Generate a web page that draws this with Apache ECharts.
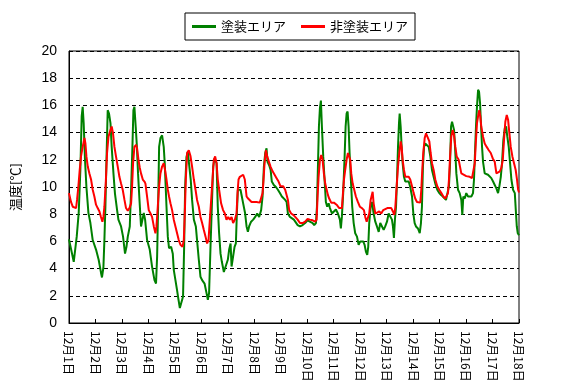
<!DOCTYPE html>
<html><head><meta charset="utf-8">
<script src="https://cdn.jsdelivr.net/npm/echarts@6/dist/echarts.min.js"></script>
<style>html,body{margin:0;padding:0;background:#fff}#c{width:587px;height:390px}</style>
</head><body><div id="c"></div>
<script>
const seriesNames = ['塗装エリア', '非塗装エリア'];
const dayTicks = ['12月1日','12月2日','12月3日','12月4日','12月5日','12月6日','12月7日','12月8日','12月9日','12月10日','12月11日','12月12日','12月13日','12月14日','12月15日','12月16日','12月17日','12月18日'];
const yTicks = [0,2,4,6,8,10,12,14,16,18,20];

// 塗装エリア (hours since 12/1 0:00, temperature)
const greenHours = [0,4.3,7.0,8.8,10.3,11.5,12.4,13.3,14.5,15.8,17.6,19.4,21.5,24.5,26.9,29.0,29.9,31.2,32.1,33.0,33.9,35.1,36.3,37.6,38.7,40.3,41.7,43.6,44.8,47.2,49.0,50.8,52.1,53.3,55.1,56.3,57.5,58.4,59.3,60.5,61.4,62.6,63.9,65.3,66.6,67.8,69.0,70.8,73.2,75.3,77.5,78.9,79.9,80.8,81.7,82.9,84.4,85.9,86.8,88.4,89.6,90.7,92.6,94.1,95.0,96.5,98.0,99.3,100.5,102.3,103.4,104.4,105.3,106.5,107.7,109.3,110.4,111.6,113.2,115.0,116.1,117.7,119.2,120.7,122.9,124.7,125.9,127.0,128.3,129.5,130.7,131.9,133.8,134.9,136.1,137.4,138.6,140.4,142.2,144.0,145.2,146.5,147.4,148.8,150.1,151.3,152.2,153.1,155.5,156.7,157.9,159.7,161.0,162.2,163.3,165.1,167.0,168.8,170.6,172.4,174.2,175.5,176.7,177.9,179.1,180.0,181.5,182.8,183.9,185.7,187.6,189.4,191.2,193.0,194.8,196.0,197.3,198.5,200.3,202.1,203.9,205.7,207.3,209.4,211.8,214.1,216.3,218.4,220.9,222.3,223.9,224.8,225.7,226.6,227.5,228.4,229.3,230.5,231.7,232.9,234.1,235.4,236.6,238.4,240.2,242.0,243.8,245.6,246.5,247.4,248.6,249.9,250.8,251.7,252.6,253.5,254.4,255.6,256.8,258.1,259.5,261.1,262.6,264.1,265.6,266.8,268.0,269.2,270.4,271.3,272.2,273.5,274.7,276.2,277.7,279.2,280.8,282.2,283.7,285.3,286.7,288.3,289.8,291.3,292.8,293.7,294.6,295.5,296.5,297.4,298.3,299.2,299.8,300.7,301.6,302.5,303.7,304.9,306.4,308.0,309.4,311.0,312.2,313.4,314.6,316.4,318.0,319.1,320.0,320.9,321.9,323.0,324.6,326.1,327.6,329.1,330.6,332.1,333.9,335.7,337.6,339.4,341.8,343.6,344.5,345.5,346.4,347.3,348.2,349.1,350.0,351.2,352.7,354.2,355.7,356.6,357.5,358.8,360.2,361.8,363.3,364.8,366.3,367.2,368.1,369.0,369.9,370.9,371.8,372.7,373.6,374.5,375.4,376.9,378.4,379.9,381.5,382.9,384.5,386.0,387.5,389.0,390.2,391.5,392.6,393.8,395.1,396.3,397.4,398.7,399.9,401.1,402.6,404.2,405.1,406.0,406.9,408];
const greenTemps = [6.15,4.5,6.35,8.1,11.25,15.2,15.9,14.7,12,10,8.1,7.35,6.1,5.4,4.65,3.7,3.35,4.1,6.1,8.55,11.75,15.65,15.4,14.7,12.95,11,9.5,8.3,7.6,7.1,6.35,5.1,5.6,6.35,7.1,9.8,12.95,15.65,15.9,14.4,13.2,11,9.05,7.1,7.6,8.1,7.6,6.1,5.4,4.15,3.15,2.9,4.9,8.55,12.95,13.6,13.8,12.95,11.75,8.55,6.35,5.5,5.6,5.1,3.9,3.15,2.4,1.7,1.1,1.1,1.95,5.6,10,12.2,12.6,12.5,10.5,9.05,7.6,7.1,6.1,4.65,3.4,3.15,2.9,2.2,1.7,2.2,5.6,8.55,11.5,12.1,11.75,8.55,6.6,5.1,4.5,3.75,3.7,4.65,5.4,5.85,4.15,4.15,5.6,5.85,8.05,9.8,9.8,9.3,8.8,8.05,7.1,6.7,7.1,7.45,7.6,7.8,8.05,7.8,8.3,9.3,11.5,12.5,12.85,11.85,11.6,11.25,10.4,10.15,10,9.8,9.55,9.3,9.25,9.05,8.9,8.05,7.8,7.7,7.6,7.6,7.2,7.1,7.2,7.35,7.55,7.45,7.35,7.2,7.35,8.55,11.5,14.45,15.8,16.35,14.45,12.25,10.55,8.9,8.55,8.8,8.45,8.05,8.2,8.35,8.05,7.6,6.95,7.8,9.55,12.25,14.45,15.4,15.55,14.45,12.5,10.5,8.55,7.35,6.6,6.35,5.75,6,6.1,6,5.75,5.25,5,5.6,7.35,8.55,8.9,8.05,7.45,7.1,6.7,7.35,7.45,6.85,7.1,7.45,8.05,8.05,7.6,7.1,6.25,7.6,8.55,10.55,12.95,14.7,15.4,14.45,12.95,11.75,10.75,10.4,10.5,10.4,10,9.3,8.05,7.35,7.1,6.95,6.6,7.35,8.55,11.5,12.95,13.2,13.2,12.95,12.25,11.25,10.75,10.25,9.8,9.55,9.4,9.3,9.05,9.15,10.05,11.75,14.45,14.8,14.7,14.2,12.95,11,9.8,9.55,9.05,7.95,9.3,9.15,9.55,9.3,9.4,9.3,9.55,10.55,12.5,14.45,15.9,17.15,17,16.15,14.45,12.95,11.85,11,10.9,10.9,10.8,10.65,10.4,10.15,9.9,9.55,10.05,10.75,11.75,13.45,14.3,14.45,13.7,12.95,11.75,10.55,9.8,9.55,8.3,7.1,6.6,6.45];

// 非塗装エリア
const redHours = [0,1.8,3.4,4.9,6.4,7.3,8.5,9.7,10.9,12.4,14.0,14.9,15.8,17.0,18.5,20.0,21.5,23.0,24.5,26.0,27.6,29.0,30.3,31.2,32.1,33.3,34.5,35.8,37.6,38.7,39.9,41.2,42.6,44.2,45.7,47.2,48.7,50.3,51.7,53.3,54.8,56.3,57.2,58.1,59.3,60.8,61.7,63.0,64.2,65.3,66.9,68.4,69.3,70.8,72.3,73.9,75.3,76.9,78.4,79.3,80.5,81.7,82.9,84.4,85.9,87.1,88.4,89.6,90.7,92.0,93.5,95.0,96.5,98.0,99.5,101.1,102.9,104.1,105.0,105.9,107.1,108.6,110.2,111.6,113.2,114.7,116.1,117.7,119.2,120.7,122.2,123.8,125.2,126.5,127.7,128.9,130.1,131.3,132.5,133.8,134.9,136.1,137.9,139.7,141.3,142.8,144.3,145.8,147.4,148.8,150.4,151.9,152.8,153.7,154.9,156.4,157.9,159.4,161.0,162.4,164.0,165.5,170.0,173.0,174.6,175.5,176.4,177.3,178.5,179.7,181.5,182.7,184.6,186.4,188.2,190.0,191.8,194.2,196.0,197.3,198.5,199.6,201.4,203.3,205.1,207.3,209.4,211.8,214.1,216.3,218.4,220.9,223.2,224.5,225.4,226.3,227.5,228.7,229.9,231.1,232.3,233.6,234.8,235.9,237.7,240.2,242.6,245.0,247.4,248.4,249.3,250.4,251.7,252.9,254.1,255.0,255.9,257.2,258.6,260.1,261.9,263.7,265.6,267.4,268.6,269.9,271.0,272.2,273.5,275.3,276.2,277.7,279.2,281.3,283.1,284.9,286.7,288.6,290.4,292.2,293.7,294.9,295.8,297.1,298.3,299.5,300.7,301.6,302.5,303.7,304.9,306.4,308.0,309.4,311.0,312.5,313.9,315.5,317.0,318.5,319.4,320.3,321.2,322.5,323.7,325.5,326.7,327.9,329.1,330.6,332.1,333.9,335.7,337.6,339.4,341.2,343.0,343.6,344.5,345.5,346.6,347.9,349.1,350.3,351.5,353.3,354.5,355.7,357.2,360.2,363.3,365.4,366.9,367.9,368.8,369.9,370.9,372.0,372.9,373.8,375.4,376.9,378.7,380.6,382.4,384.2,386.0,387.5,389.0,390.6,392.0,393.3,394.4,395.6,396.9,398.1,399.3,400.5,402.0,403.5,405.0,406.2,407.2,408];
const redTemps = [9.55,8.9,8.55,8.45,8.45,9.05,10.05,11.25,12.25,12.95,13.6,13.2,12.25,11.5,11,10.55,9.8,9.3,8.7,8.45,8.2,7.8,7.45,7.8,8.55,10.25,12.5,13.7,14.2,14.45,13.95,12.95,12.25,11.5,10.75,10.25,9.8,9.05,8.45,8.25,8.45,8.8,10.05,11.75,12.95,13.1,12.85,12,11.4,11,10.55,10.4,10.25,9.3,8.3,8.05,7.8,7.1,6.6,7.1,8.55,10.05,11,11.5,11.75,11.25,10.55,9.8,9.3,8.8,8.3,7.6,7.1,6.6,6.1,5.75,5.6,6.1,8.05,10.55,12.5,12.7,12.25,11.5,10.55,9.8,9.05,8.55,7.8,7.35,6.85,6.35,5.85,6.1,7.6,9.05,10.55,12,12.25,11.75,10.55,9.8,8.8,8.3,8.05,7.6,7.8,7.6,7.8,7.35,7.6,8.05,9.55,10.55,10.75,10.75,10.9,10.55,9.3,9.15,9.05,8.9,8.9,8.85,8.9,9.55,10.55,11.75,12.7,12.25,12.25,11.5,11.15,10.9,10.65,10.4,10.05,10.05,9.8,9.8,9.05,8.3,8.05,7.95,7.8,7.6,7.35,7.35,7.45,7.65,7.6,7.55,7.45,7.6,9.3,10.75,12,12.35,12,11,10.25,9.8,9.4,9.15,8.85,8.85,8.7,8.45,8.45,9.55,10.55,11.25,12,12.5,12.6,12,11,10.25,9.8,9.3,8.9,8.55,8.45,8.3,7.8,7.45,7.45,8.05,9.05,9.65,8.8,8.05,8.1,8.2,8.05,8.3,8.2,8.45,8.35,8.45,8.2,7.95,8.45,10.05,11.5,12.5,13.35,12.95,12,11.25,10.75,10.65,10.75,10.55,10.05,9.55,9.15,8.9,8.8,8.85,9.8,11.25,12.5,13.6,13.95,14,13.35,12.5,11.75,11.25,10.55,10.05,9.8,9.55,9.3,9.15,9.15,9.55,10.55,12.25,13.7,14.2,13.8,12.95,12.25,12,11.5,11,10.9,10.8,10.75,10.65,10.55,11.75,13.2,14.7,15.2,15.65,15.2,14.45,13.7,13.2,12.95,12.7,12.5,12.1,11.85,11,10.9,11.15,11.4,12,13.45,14.8,15.3,14.95,13.95,12.95,12.25,11.75,11.25,10.55,9.8,9.6];

const zip = (a, b) => a.map((h, i) => [h, b[i]]);

const chart = echarts.init(document.getElementById('c'), null, {renderer: 'canvas'});
const jp = "'Noto Sans CJK JP', sans-serif";
chart.setOption({
  animation: false,
  backgroundColor: '#fff',
  legend: {
    left: 185, top: 13,
    padding: [7, 7, 7, 7],
    itemWidth: 24, itemHeight: 3, itemGap: 15,
    icon: 'rect',
    borderColor: '#000', borderWidth: 1,
    textStyle: {fontSize: 13, fontFamily: jp, color: '#000'},
    data: seriesNames
  },
  grid: {left: 69, right: 68, top: 51, bottom: 67, show: true, borderColor: '#000', borderWidth: 1, backgroundColor: 'transparent'},
  xAxis: {
    type: 'value', min: 0, max: 408, interval: 24,
    axisLine: {lineStyle: {color: '#000', width: 1}},
    axisTick: {inside: true, length: 4, lineStyle: {color: '#000'}},
    splitLine: {show: false},
    axisLabel: {
      rotate: -90, margin: 8, color: '#000', fontSize: 12, fontFamily: jp,
      showMinLabel: true, showMaxLabel: true,
      formatter: v => dayTicks[Math.round(v / 24)]
    }
  },
  yAxis: {
    type: 'value', min: yTicks[0], max: yTicks[yTicks.length - 1], interval: 2,
    name: '温度[℃]', nameLocation: 'middle', nameGap: 47,
    nameTextStyle: {fontSize: 13, fontFamily: jp, color: '#000'},
    axisLine: {show: true, lineStyle: {color: '#000', width: 1}},
    axisTick: {show: true, inside: true, length: 4, lineStyle: {color: '#000'}},
    axisLabel: {margin: 12, color: '#000', fontSize: 14, fontFamily: "'Liberation Sans', Arial, sans-serif"},
    splitLine: {show: true, lineStyle: {color: '#000', width: 1, type: [4, 3]}}
  },
  series: [
    {name: seriesNames[0], type: 'line', data: zip(greenHours, greenTemps), showSymbol: false, symbol: 'none',
     lineStyle: {color: '#008000', width: 2}, itemStyle: {color: '#008000'}},
    {name: seriesNames[1], type: 'line', data: zip(redHours, redTemps), showSymbol: false, symbol: 'none',
     lineStyle: {color: '#ff0000', width: 2}, itemStyle: {color: '#ff0000'}}
  ]
});
</script></body></html>
